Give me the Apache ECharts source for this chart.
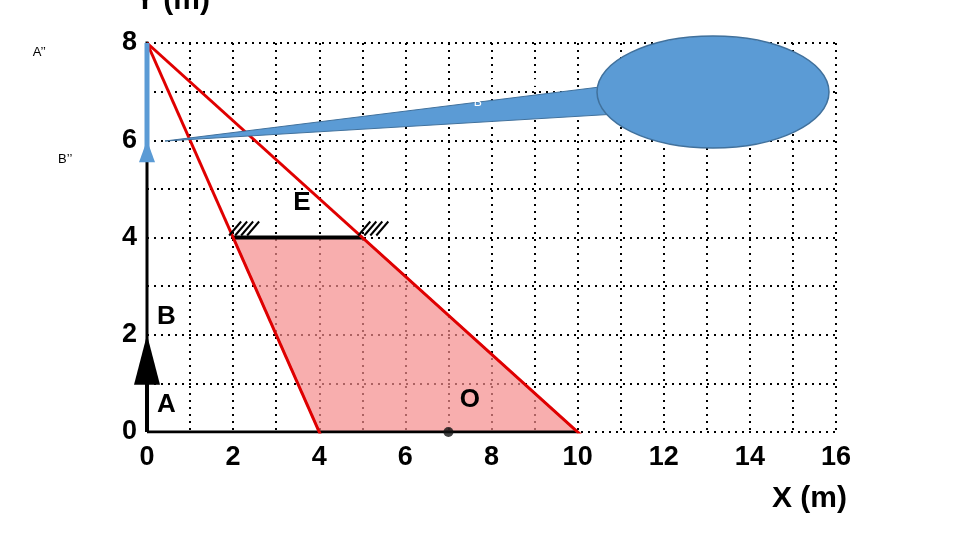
<!DOCTYPE html>
<html>
<head>
<meta charset="UTF-8">
<script src="https://cdn.jsdelivr.net/npm/echarts@6/dist/echarts.min.js"></script>
<style>
*{margin:0;padding:0}
html,body{width:960px;height:540px;background:#fff;overflow:hidden}
#c{width:960px;height:540px}
</style>
</head>
<body>
<div id="c"></div>
<script>
// data
const xTicks=[0,2,4,6,8,10,12,14,16]
const yTicks=[0,2,4,6,8]
const ray1=[[0,8],[5.2,-2.4]]
const ray2=[[0,8],[12.4,-1.92]]
const field=[[2,4],[5,4],[10,0],[4,0]]
const mirror=[[2,4],[5,4]]
const image=[[0,8],[0,6]]
const object=[[0,0],[0,2]]
const yAxisLine=[[0,0],[0,8.3]]
const xBase=[[0,0],[10,0]]
const pointO=[[7,0]]
const labels=[{t:'E',p:[3.6,4.45]},{t:'B',p:[0.45,2.1]},{t:'A',p:[0.45,0.3]},{t:'O',p:[7.5,0.4]}]
const small=[{t:'A\u2019\u2019',p:[-2.5,7.8]},{t:'B\u2019\u2019',p:[-1.9,5.6]}]

let chart=echarts.init(document.getElementById('c'))
const line=(d,c,w)=>({type:'line',data:d,symbol:'none',lineStyle:{color:c,width:w},z:5,silent:true})
let hatch=[]
;[[2.1,4],[2.5,4],[2.9,4],[4.6,4],[5,4],[4.8,4]].forEach(()=>{})
chart.setOption({
  animation:false,
  grid:{left:147,right:124,top:43,bottom:108},
  xAxis:{type:'value',min:0,max:16,interval:1,
    axisLine:{show:false},axisTick:{show:false},
    axisLabel:{fontSize:27,fontWeight:'bold',color:'#000',fontFamily:'Liberation Sans',margin:12,
      formatter:v=>xTicks.includes(v)?v:''},
    splitLine:{lineStyle:{color:'#000',type:[2,5],width:2}}},
  yAxis:{type:'value',min:0,max:8,interval:1,
    axisLine:{show:false},axisTick:{show:false},
    axisLabel:{fontSize:27,fontWeight:'bold',color:'#000',fontFamily:'Liberation Sans',margin:10,
      formatter:v=>yTicks.includes(v)?v:''},
    splitLine:{lineStyle:{color:'#000',type:[2,5],width:2}}},
  series:[
    {type:'custom',z:2,silent:true,renderItem:(p,api)=>({type:'polygon',
      shape:{points:field.map(q=>api.coord(q))},
      style:{fill:'rgba(245,140,140,0.7)',stroke:'#7a5a8a',lineWidth:2}}),data:[0]},
    line(yAxisLine,'#000',3),
    line(xBase,'#000',3),
    line(mirror,'#000',4),
    {type:'custom',z:6,silent:true,data:[0],renderItem:(p,api)=>{
      let ch=[]
      ;[2,5].forEach(x=>{const b=api.coord([x,4]);for(let i=0;i<4;i++)ch.push({type:'line',
        shape:{x1:b[0]+i*6-4,y1:b[1]-2,x2:b[0]+i*6+8,y2:b[1]-16},style:{stroke:'#000',lineWidth:2}})})
      return {type:'group',children:ch}}},
    line(ray1,'#e00000',3),
    line(ray2,'#e00000',3),
    {type:'custom',z:7,silent:true,data:[0],renderItem:(p,api)=>{
      const a=api.coord(image[0]),b=api.coord(image[1]),o0=api.coord(object[0]),o1=api.coord(object[1])
      return {type:'group',children:[
        {type:'line',shape:{x1:a[0],y1:a[1],x2:b[0],y2:b[1]+20},style:{stroke:'#5b9bd5',lineWidth:5}},
        {type:'polygon',shape:{points:[[b[0]-8,b[1]+22],[b[0]+8,b[1]+22],[b[0],b[1]]]},style:{fill:'#5b9bd5'}},
        {type:'line',shape:{x1:o0[0],y1:o0[1],x2:o1[0],y2:o1[1]+10},style:{stroke:'#000',lineWidth:4}},
        {type:'polygon',shape:{points:[[o1[0]-13,o1[1]+50],[o1[0]+13,o1[1]+50],[o1[0],o1[1]]]},style:{fill:'#000'}}
      ]}}},
    {type:'scatter',data:pointO,symbolSize:10,itemStyle:{color:'#111'},z:8,silent:true},
    {type:'custom',z:9,silent:true,data:labels.map((l,i)=>i),renderItem:(p,api)=>{
      const l=labels[p.dataIndex],c=api.coord(l.p)
      return {type:'text',x:c[0],y:c[1],style:{text:l.t,fill:'#000',font:'bold 26px "Liberation Sans"',align:'center',verticalAlign:'bottom'}}}},
    {type:'custom',z:9,silent:true,data:small.map((l,i)=>i),renderItem:(p,api)=>{
      const l=small[p.dataIndex],c=api.coord(l.p)
      return {type:'text',x:c[0],y:c[1],style:{text:l.t,fill:'#000',font:'13px "Liberation Sans"',align:'center',verticalAlign:'middle'}}}}
  ],
  graphic:[
    {type:'polygon',z:20,shape:{points:[[165,141],[640,82],[650,112]]},style:{fill:'#5b9bd5',stroke:'#41719c',lineWidth:1}},
    {type:'ellipse',z:21,shape:{cx:713,cy:92,rx:116,ry:56},style:{fill:'#5b9bd5',stroke:'#41719c',lineWidth:1.5}},
    {type:'text',z:22,left:'center',x:0,style:{x:707,y:92,text:'Faça o mesmo para\nB\u2019\u2019',fill:'#fff',font:'13px "Open Sans"',align:'center',verticalAlign:'middle',lineHeight:20}},
    {type:'text',z:22,style:{x:135,y:-14,text:'Y (m)',fill:'#000',font:'bold 30px "Liberation Sans"'}},
    {type:'text',z:22,style:{x:772,y:484,text:'X (m)',fill:'#000',font:'bold 30px "Liberation Sans"'}}
  ]
})
</script>
</body>
</html>
